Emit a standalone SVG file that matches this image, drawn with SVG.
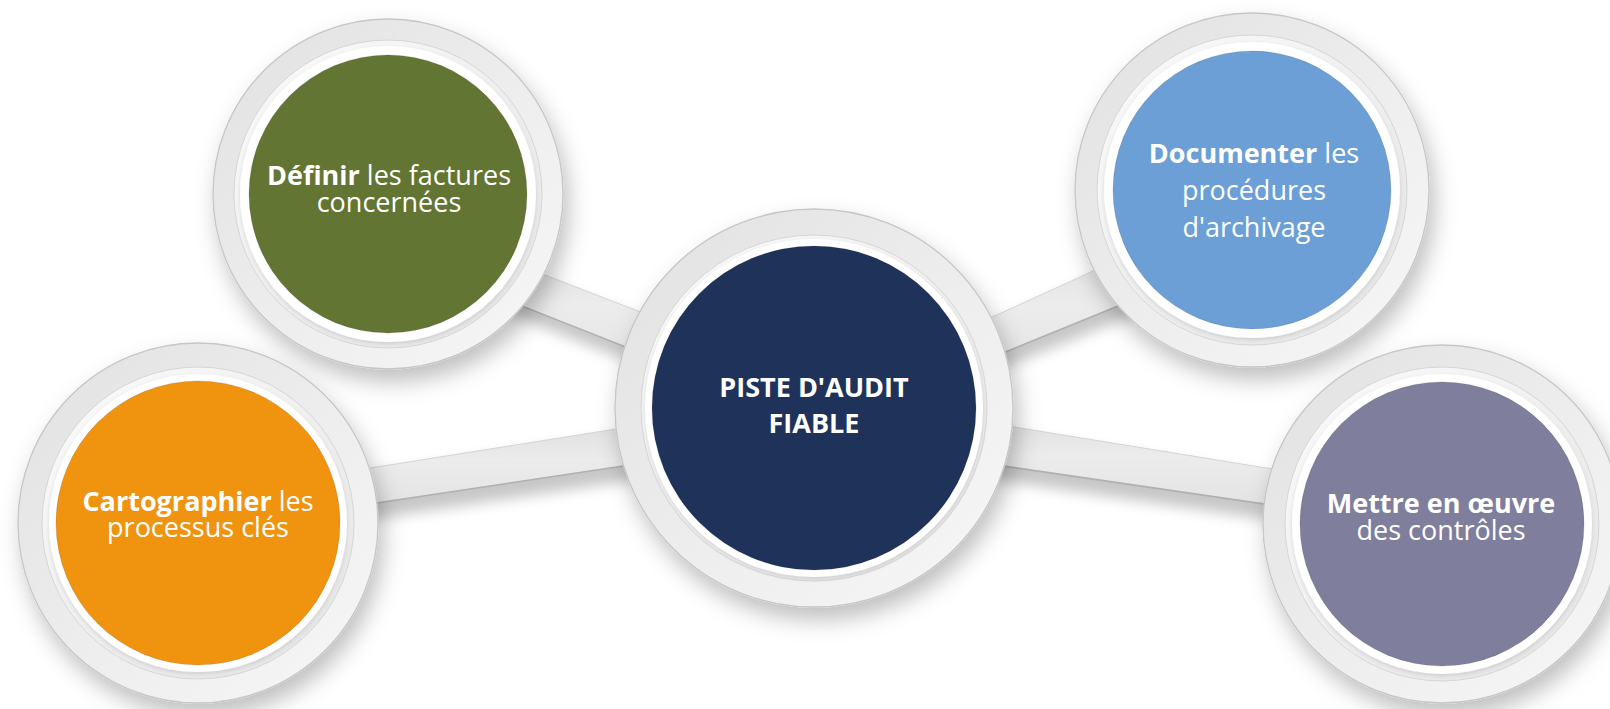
<svg xmlns="http://www.w3.org/2000/svg" width="1610" height="709" viewBox="0 0 1610 709">
<defs>
<style>
.lbl{font-family:"Open Sans","Liberation Sans",sans-serif;font-size:27px;fill:#ffffff;text-anchor:middle}
.b{font-weight:700}
.ttl{font-family:"Open Sans","Liberation Sans",sans-serif;font-size:27px;font-weight:700;fill:#ffffff;text-anchor:middle}
.ring-o{fill:url(#gOuter);stroke:#c6c6c6;stroke-width:1.3}
.ring-i{fill:url(#gInner);stroke:#d6d6d6;stroke-width:1}
.ring-w{fill:#ffffff}
.disk{stroke:#000;stroke-opacity:0.12;stroke-width:1}
.beam{fill:url(#gBeam)}
.beam-shadow{fill:#000;opacity:0.22;filter:url(#blurB)}
.beam-edge{stroke:#b0b0b0;stroke-width:1.6;fill:none}
.beam-top{stroke:#d4d4d4;stroke-width:1;fill:none}
</style>
<linearGradient id="gOuter" x1="0" y1="0" x2="1" y2="1">
<stop offset="0" stop-color="#e1e1e1"/>
<stop offset="0.55" stop-color="#eeeeee"/>
<stop offset="1" stop-color="#f7f7f7"/>
</linearGradient>
<linearGradient id="gInner" x1="1" y1="1" x2="0" y2="0">
<stop offset="0" stop-color="#e4e4e4"/>
<stop offset="1" stop-color="#fbfbfb"/>
</linearGradient>
<linearGradient id="gBeam" x1="0" y1="0" x2="0" y2="1">
<stop offset="0" stop-color="#dcdcdc"/>
<stop offset="0.45" stop-color="#ececec"/>
<stop offset="1" stop-color="#e2e2e2"/>
</linearGradient>
<filter id="sh" x="-30%" y="-30%" width="160%" height="170%">
<feDropShadow dx="5" dy="12" stdDeviation="11" flood-color="#000" flood-opacity="0.25"/>
</filter>
<filter id="shW" x="-20%" y="-20%" width="140%" height="140%">
<feDropShadow dx="0" dy="2" stdDeviation="2" flood-color="#000" flood-opacity="0.12"/>
</filter>
<filter id="blurB" x="-20%" y="-50%" width="140%" height="200%">
<feGaussianBlur stdDeviation="7"/>
</filter>
</defs>
<rect width="1610" height="709" fill="#ffffff"/>

<g id="connectors">
<polygon class="beam-shadow" points="450,246 720,351 720,398 450,290"/>
<polygon class="beam-shadow" points="300,487 700,424 700,470 300,530"/>
<polygon class="beam-shadow" points="900,368 1180,240 1180,296 900,410"/>
<polygon class="beam-shadow" points="900,417 1340,489 1340,530 900,466"/>
<polygon class="beam" points="450,238.3 720,342.8 720,384.2 450,277.6"/>
<line class="beam-top" x1="450" y1="238.3" x2="720" y2="342.8"/>
<line class="beam-edge" x1="450" y1="277.6" x2="720" y2="384.2"/>
<polygon class="beam" points="300,479.2 700,415.7 700,454.5 300,514.5"/>
<line class="beam-top" x1="300" y1="479.2" x2="700" y2="415.7"/>
<line class="beam-edge" x1="300" y1="514.5" x2="700" y2="454.5"/>
<polygon class="beam" points="900,359.4 1180,231.2 1180,280.7 900,394.9"/>
<line class="beam-top" x1="900" y1="359.4" x2="1180" y2="231.2"/>
<line class="beam-edge" x1="900" y1="394.9" x2="1180" y2="280.7"/>
<polygon class="beam" points="900,408.5 1340,480 1340,515 900,451"/>
<line class="beam-top" x1="900" y1="408.5" x2="1340" y2="480"/>
<line class="beam-edge" x1="900" y1="451" x2="1340" y2="515"/>
</g>

<g id="node-definir">
<circle class="ring-o" cx="388" cy="194" r="175" filter="url(#sh)"/>
<circle class="ring-i" cx="388" cy="194" r="154"/>
<circle class="ring-w" cx="388" cy="194" r="148" filter="url(#shW)"/>
<circle class="disk" cx="388" cy="194" r="139" fill="#627533"/>
<text class="lbl" x="389" y="185"><tspan class="b">Définir</tspan> les factures<tspan x="389" dy="27">concernées</tspan></text>
</g>

<g id="node-documenter">
<circle class="ring-o" cx="1252" cy="190" r="177" filter="url(#sh)"/>
<circle class="ring-i" cx="1252" cy="190" r="155"/>
<circle class="ring-w" cx="1252" cy="190" r="148" filter="url(#shW)"/>
<circle class="disk" cx="1252" cy="190" r="139" fill="#6b9fd6"/>
<text class="lbl" x="1254" y="163"><tspan class="b">Documenter</tspan> les<tspan x="1254" dy="37">procédures</tspan><tspan x="1254" dy="37">d'archivage</tspan></text>
</g>

<g id="node-cartographier">
<circle class="ring-o" cx="198" cy="523" r="180" filter="url(#sh)"/>
<circle class="ring-i" cx="198" cy="523" r="156"/>
<circle class="ring-w" cx="198" cy="523" r="149" filter="url(#shW)"/>
<circle class="disk" cx="198" cy="523" r="142" fill="#f0930f"/>
<text class="lbl" x="198" y="511"><tspan class="b">Cartographier</tspan> les<tspan x="198" dy="26">processus clés</tspan></text>
</g>

<g id="node-mettre">
<circle class="ring-o" cx="1442" cy="524" r="179" filter="url(#sh)"/>
<circle class="ring-i" cx="1442" cy="524" r="157"/>
<circle class="ring-w" cx="1442" cy="524" r="150" filter="url(#shW)"/>
<circle class="disk" cx="1442" cy="524" r="142" fill="#7f7e9c"/>
<text class="lbl" x="1441" y="513"><tspan class="b">Mettre en œuvre</tspan><tspan x="1441" dy="27">des contrôles</tspan></text>
</g>

<g id="node-piste">
<circle class="ring-o" cx="814" cy="408" r="199" filter="url(#sh)"/>
<circle class="ring-i" cx="814" cy="408" r="173"/>
<circle class="ring-w" cx="814" cy="408" r="169" filter="url(#shW)"/>
<circle class="disk" cx="814" cy="408" r="162" fill="#1f325a"/>
<text class="ttl" x="814" y="397">PISTE D'AUDIT<tspan x="814" dy="36">FIABLE</tspan></text>
</g>
</svg>
